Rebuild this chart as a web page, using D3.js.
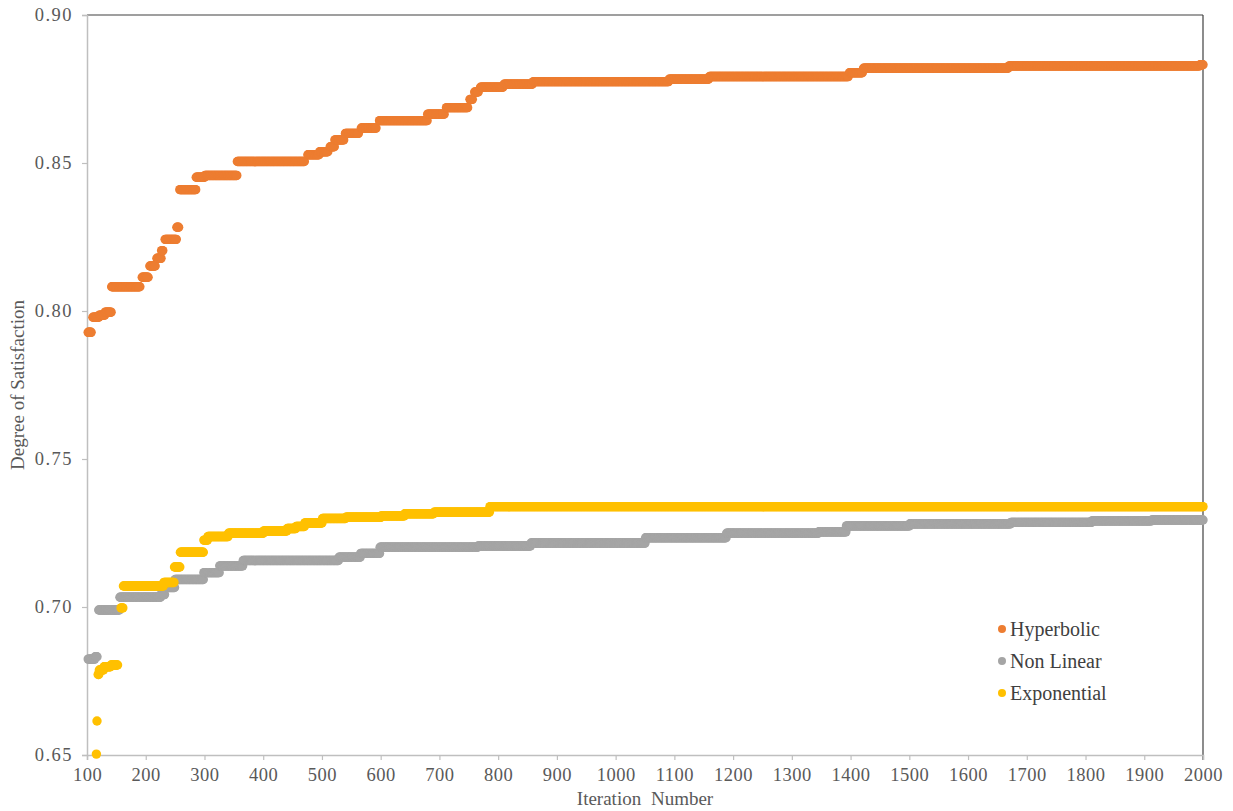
<!DOCTYPE html>
<html>
<head>
<meta charset="utf-8">
<script src="https://cdn.jsdelivr.net/npm/d3@7"></script>
<style>
  html, body { margin: 0; padding: 0; background: #ffffff; }
  svg { display: block; }
  text { font-family: "Liberation Serif", "Times New Roman", serif; }
</style>
</head>
<body>
<svg id="chart" width="1233" height="811"></svg>
<script>
// Best degree of satisfaction found so far, as runs of [fromIteration, toIteration, value]
const hyperbolicRuns = [
  [102, 107, 0.7928], [110, 120, 0.7979], [121, 130, 0.7986], [131, 141, 0.7996],
  [142, 190, 0.8082], [194, 204, 0.8114], [207, 216, 0.8152], [219, 226, 0.8178],
  [227, 229, 0.8204], [233, 252, 0.8242], [253, 256, 0.8283], [258, 285, 0.8410],
  [286, 300, 0.8452], [301, 355, 0.8458], [356, 470, 0.8505], [476, 495, 0.8528],
  [496, 510, 0.8538], [514, 521, 0.8555], [522, 537, 0.8578], [540, 562, 0.8600],
  [567, 592, 0.8618], [598, 679, 0.8643], [680, 708, 0.8665], [712, 748, 0.8687],
  [752, 756, 0.8715], [760, 766, 0.8740], [770, 808, 0.8756], [810, 858, 0.8766],
  [860, 1090, 0.8775], [1091, 1158, 0.8783], [1160, 1396, 0.8792], [1398, 1420, 0.8805],
  [1422, 1668, 0.8820], [1670, 1994, 0.8828], [1995, 2000, 0.8832]
];

const nonLinearRuns = [
  [102, 113, 0.6824], [114, 117, 0.6832], [120, 155, 0.6990], [156, 225, 0.7033],
  [226, 232, 0.7042], [233, 249, 0.7066], [250, 298, 0.7093], [299, 325, 0.7116],
  [326, 365, 0.7139], [366, 528, 0.7157], [529, 565, 0.7168], [566, 598, 0.7181],
  [599, 765, 0.7202], [766, 855, 0.7206], [856, 1050, 0.7216], [1051, 1188, 0.7234],
  [1189, 1345, 0.7249], [1346, 1392, 0.7254], [1393, 1500, 0.7274], [1501, 1672, 0.7281],
  [1673, 1810, 0.7286], [1811, 1912, 0.7291], [1913, 2000, 0.7294]
];

const exponentialRuns = [
  [116, 116, 0.6503], [117, 117, 0.6615], [119, 120, 0.6772], [121, 128, 0.6787],
  [129, 140, 0.6798], [141, 152, 0.6804], [158, 161, 0.6997], [162, 230, 0.7071],
  [231, 248, 0.7083], [249, 258, 0.7135], [259, 298, 0.7185], [299, 305, 0.7226],
  [306, 340, 0.7238], [341, 400, 0.7249], [401, 440, 0.7257], [441, 455, 0.7265],
  [456, 470, 0.7272], [471, 500, 0.7284], [501, 540, 0.7299], [541, 600, 0.7303],
  [601, 640, 0.7308], [641, 690, 0.7315], [691, 785, 0.7320], [786, 2000, 0.7339]
];

const seriesNames = ["Hyperbolic", "Non Linear", "Exponential"];
const seriesColors = ["#ED7D31", "#A5A5A5", "#FFC000"];
const xTicks = d3.range(100, 2001, 100);
const yTicks = [0.65, 0.70, 0.75, 0.80, 0.85, 0.90];

const margin = { left: 87, right: 30, top: 15, bottom: 56 };
const width = 1233, height = 811;
const svg = d3.select("#chart");

const x = d3.scaleLinear().domain([100, 2000]).range([margin.left, width - margin.right]);
const y = d3.scaleLinear().domain([0.65, 0.90]).range([height - margin.bottom, margin.top]);

// Frame: top and right edges
svg.append("line").attr("x1", x(100)).attr("x2", x(2000)).attr("y1", y(0.90)).attr("y2", y(0.90))
  .attr("stroke", "#404040").attr("stroke-width", 1.2);
svg.append("line").attr("x1", x(2000)).attr("x2", x(2000)).attr("y1", y(0.90)).attr("y2", y(0.65) + 5)
  .attr("stroke", "#404040").attr("stroke-width", 1.2);

// Axes
const xAxis = svg.append("g").attr("transform", `translate(0,${y(0.65)})`)
  .call(d3.axisBottom(x).tickValues(xTicks).tickFormat(d3.format("d")).tickSize(5).tickPadding(8));
const yAxis = svg.append("g").attr("transform", `translate(${x(100)},0)`)
  .call(d3.axisLeft(y).tickValues(yTicks).tickFormat(d3.format(".2f")).tickSize(5).tickPadding(9));

[xAxis, yAxis].forEach(g => {
  g.select(".domain").attr("stroke", "#BFBFBF").attr("stroke-width", 1.5);
  g.selectAll(".tick line").attr("stroke", "#BFBFBF").attr("stroke-width", 1.2);
  g.selectAll(".tick text").attr("fill", "#595959").attr("font-size", 18.5)
    .style("font-family", "'Liberation Serif', serif");
});
xAxis.selectAll(".tick text").attr("letter-spacing", 0.5);
yAxis.selectAll(".tick text").attr("letter-spacing", 1.5);

// Axis titles
svg.append("text").attr("x", 645).attr("y", 805).attr("text-anchor", "middle")
  .attr("fill", "#595959").attr("font-size", 19).attr("word-spacing", 5)
  .text("Iteration Number");
svg.append("text").attr("transform", `translate(24,${(y(0.65) + y(0.90)) / 2}) rotate(-90)`)
  .attr("text-anchor", "middle").attr("fill", "#595959").attr("font-size", 19)
  .text("Degree of Satisfaction");

// Expand each run into one point per iteration
function toPoints(runs) {
  const pts = [];
  runs.forEach(([from, to, v]) => {
    for (let it = from; it <= to; it++) pts.push({ it, v });
  });
  return pts;
}

const plot = svg.append("g");
[nonLinearRuns, exponentialRuns, hyperbolicRuns].forEach((runs, k) => {
  const idx = [1, 2, 0][k];
  plot.append("g").selectAll("circle").data(toPoints(runs)).join("circle")
    .attr("cx", d => x(d.it)).attr("cy", d => y(d.v)).attr("r", 4.7)
    .attr("fill", seriesColors[idx]);
});

// Legend
const legend = svg.append("g").attr("transform", "translate(1002,629)");
seriesNames.forEach((name, i) => {
  const row = legend.append("g").attr("transform", `translate(0,${i * 32})`);
  row.append("circle").attr("r", 4).attr("fill", seriesColors[i]);
  row.append("text").attr("x", 8).attr("y", 7).attr("fill", "#404040")
    .attr("font-size", 20).text(name);
});
</script>
</body>
</html>
